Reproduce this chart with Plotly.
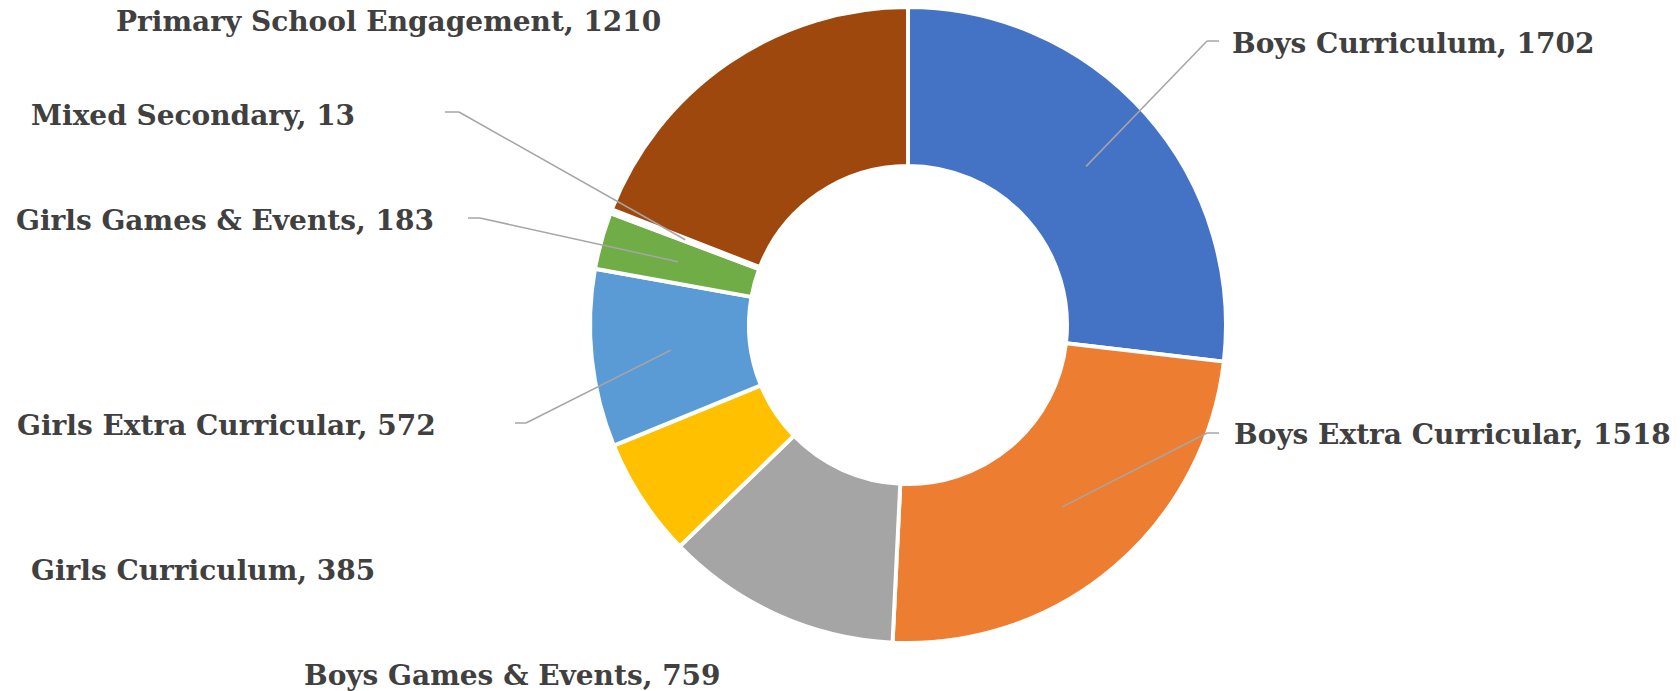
import math
import plotly.graph_objects as go

categories = ["Boys Curriculum", "Boys Extra Curricular", "Boys Games & Events",
              "Girls Curriculum", "Girls Extra Curricular", "Girls Games & Events",
              "Mixed Secondary", "Primary School Engagement"]
values = [1702, 1518, 759, 385, 572, 183, 13, 1210]
colors = ["#4472C4", "#ED7D31", "#A5A5A5", "#FFC000", "#5B9BD5", "#70AD47",
          "#264478", "#9E480E"]

W, H = 1680, 691
CX, CY, R = 908, 325, 318
HOLE = 0.5

# label layout (pixel positions): (x, y, xanchor, elbow or None)
label_pos = {
    "Boys Curriculum": (1230, 43, "left", (1207, 1219, 41)),
    "Boys Extra Curricular": (1232, 434, "left", (1207, 1219, 433)),
    "Boys Games & Events": (512, 675, "center", None),
    "Girls Curriculum": (203, 570, "center", None),
    "Girls Extra Curricular": (226, 425, "center", (526, 515, 423)),
    "Girls Games & Events": (225, 220, "center", (480, 468, 218)),
    "Mixed Secondary": (193, 115, "center", (459, 445, 112)),
    "Primary School Engagement": (388, 21, "center", None),
}

fig = go.Figure(go.Pie(
    labels=categories, values=values, hole=HOLE, sort=False,
    direction="clockwise", rotation=0,
    marker=dict(colors=colors, line=dict(color="white", width=4)),
    textinfo="none", hoverinfo="label+value",
    domain=dict(x=[(CX - R) / W, (CX + R) / W],
                y=[(H - CY - R) / H, (H - CY + R) / H]),
))

def px(x):
    return x / W

def py(y):
    return 1 - y / H

total = sum(values)
cum = 0
annotations = []
shapes = []
font = dict(family="DejaVu Serif", size=28, color="#404040", weight="bold")
for cat, v in zip(categories, values):
    mid = (cum + v / 2) / total * 2 * math.pi
    cum += v
    lx, ly, anchor, elbow = label_pos[cat]
    annotations.append(dict(x=px(lx), y=py(ly), xref="paper", yref="paper",
                            text=f"{cat}, {v}", showarrow=False,
                            xanchor=anchor, yanchor="middle", font=font))
    if elbow:
        rm = R * (1 + HOLE) / 2
        ix = CX + rm * math.sin(mid)
        iy = CY - rm * math.cos(mid)
        ex0, ex1, ey = elbow
        shapes.append(dict(type="line", xref="paper", yref="paper",
                           x0=px(ex1), y0=py(ey), x1=px(ex0), y1=py(ey),
                           line=dict(color="#A6A6A6", width=1.5)))
        shapes.append(dict(type="line", xref="paper", yref="paper",
                           x0=px(ex0), y0=py(ey), x1=px(ix), y1=py(iy),
                           line=dict(color="#A6A6A6", width=1.5)))

fig.update_layout(
    width=W, height=H, margin=dict(l=0, r=0, t=0, b=0),
    paper_bgcolor="white", plot_bgcolor="white", showlegend=False,
    annotations=annotations, shapes=shapes,
)
fig.write_html("out.html", config={"displayModeBar": False},
               post_script="document.body.style.margin='0';document.body.style.overflow='hidden';")
